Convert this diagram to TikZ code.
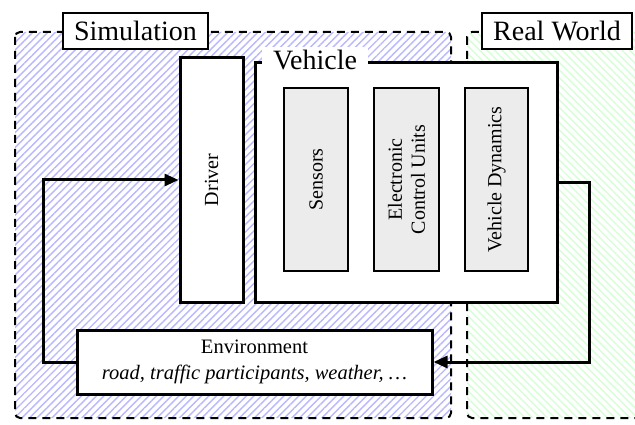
\documentclass[tikz,border=0pt]{standalone}
\usepackage{fontspec}
\setmainfont{Liberation Serif}
\usetikzlibrary{patterns.meta,arrows.meta}
\tikzset{
  region/.style={dash pattern=on 8pt off 6pt, line width=2pt, rounded corners=5pt},
  titlebox/.style={draw, line width=2.8pt, fill=white, inner sep=3pt, font=\fontsize{28}{32}\selectfont},
  bigbox/.style={draw, line width=3pt, fill=white},
  subbox/.style={draw, line width=2pt, fill=gray!15, font=\fontsize{20}{23}\selectfont, align=center},
  conn/.style={line width=3pt, -{Triangle[length=14pt,width=12pt]}},
}
\begin{document}
\begin{tikzpicture}[x=1pt,y=-1pt]
\useasboundingbox (0,0) rectangle (635,425);
% regions
\draw[region, preaction={fill=white}, pattern={Lines[angle=45,distance=5.3pt,line width=1.4pt]}, pattern color=blue!28]
  (15,32) rectangle (451,418);
\draw[region, preaction={fill=white}, pattern={Lines[angle=-45,distance=5.3pt,line width=1.4pt]}, pattern color=green!16]
  (467,32) rectangle (660,418);
\node[titlebox, minimum width=145pt, minimum height=36pt] (sim) at (135.5,31) {Simulation};
\node[titlebox, minimum width=150pt, minimum height=36pt] (real) at (557,31) {Real World};
% driver
\node[bigbox, minimum width=63pt, minimum height=244pt] (drv) at (211.5,180) {};
\node[rotate=90, font=\fontsize{20}{23}\selectfont] (drvt) at (drv.center) {Driver};
% vehicle
\node[bigbox, minimum width=302pt, minimum height=239pt] (veh) at (406,182.5) {};
\node[fill=white, inner sep=3pt, minimum width=106pt, font=\fontsize{28}{32}\selectfont] (veht) at (315,60) {Vehicle};
\node[subbox, minimum width=64pt, minimum height=183pt] (sen) at (316,179.5) {};
\node[rotate=90, font=\fontsize{20}{23}\selectfont] (sent) at (sen.center) {Sensors};
\node[subbox, minimum width=65pt, minimum height=183pt] (ecu) at (406.5,179.5) {};
\node[rotate=90, align=center, font=\fontsize{20}{23}\selectfont] (ecut) at (ecu.center) {Electronic\\Control Units};
\node[subbox, minimum width=63pt, minimum height=183pt] (vd) at (496.5,179.5) {};
\node[rotate=90, font=\fontsize{20}{23}\selectfont] (vdt) at (vd.center) {Vehicle Dynamics};
% environment
\node[bigbox, minimum width=355pt, minimum height=64pt, align=center, font=\fontsize{20.5}{26}\selectfont] (env) at (254.5,362)
  {Environment\\\itshape road, traffic participants, weather, \dots};
% connectors
\draw[conn] (veh.east) -- ++(31,0) |- (env.east);
\draw[conn] (env.west) -- ++(-32,0) |- (drv.west);
\end{tikzpicture}
\end{document}
